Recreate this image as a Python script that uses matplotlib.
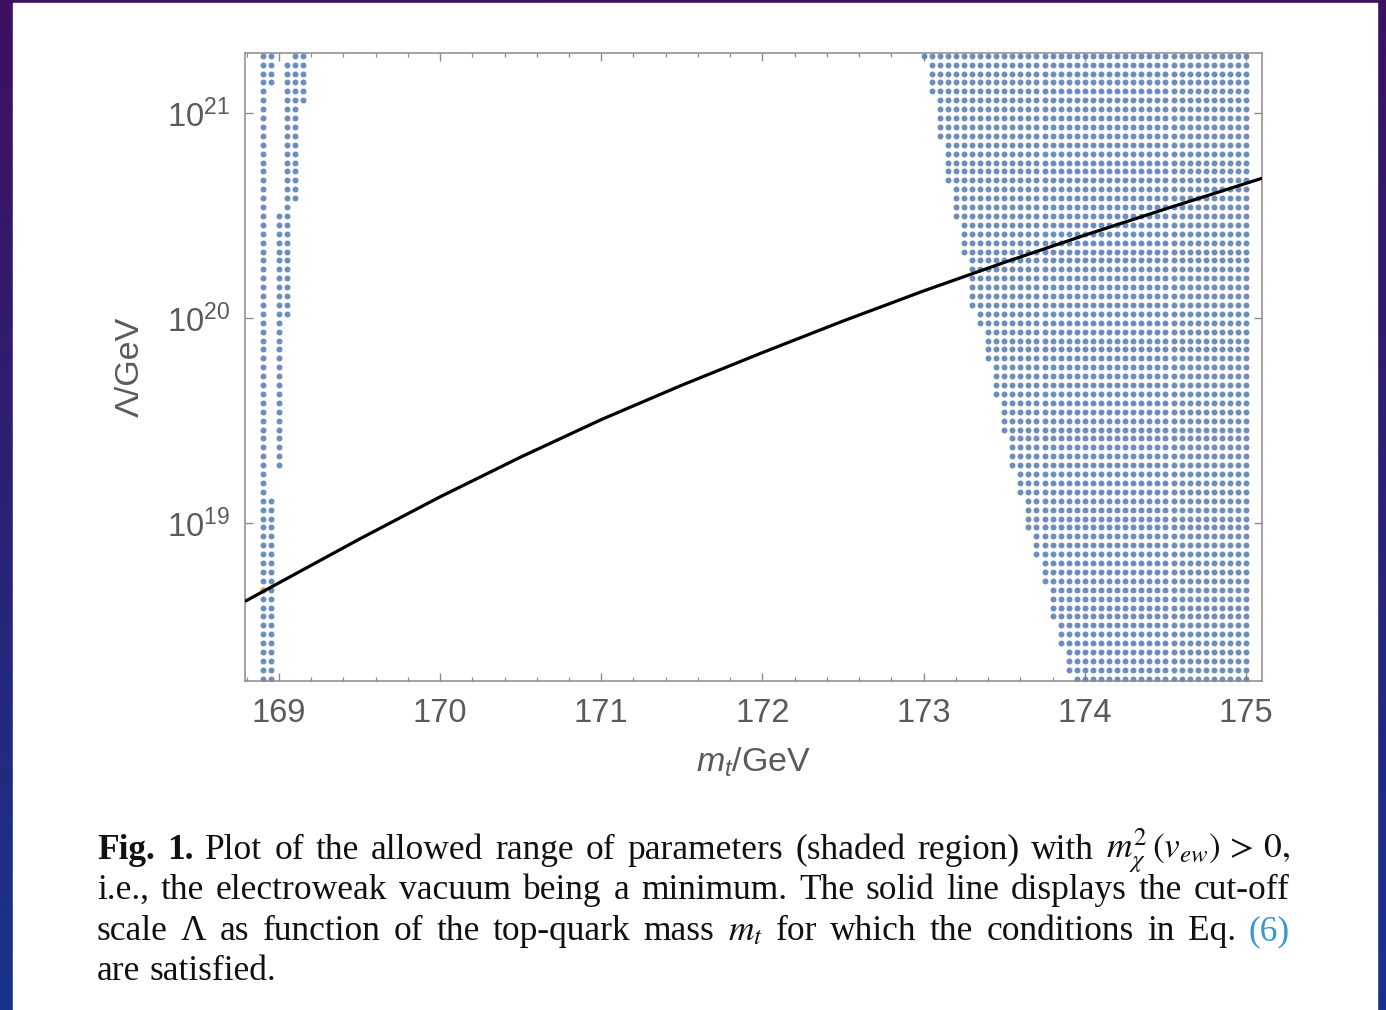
import numpy as np
import matplotlib
matplotlib.use("Agg")
import matplotlib.pyplot as plt
from matplotlib.patches import Rectangle
from matplotlib.ticker import FixedLocator, MultipleLocator, NullLocator, LogFormatterSciNotation

# ---------------------------------------------------------------------------
# Scanned parameter grid: top mass in steps of 0.05 GeV, ln(Lambda/GeV) in steps of 0.1
# ---------------------------------------------------------------------------
lnlam_rows = np.round(np.arange(42.0, 49.0001, 0.1), 1)

# narrow allowed strip near m_t = 169 GeV: per-column ln(Lambda) intervals
strip_mt = [168.90, 168.95, 168.95, 169.00, 169.05, 169.10, 169.15]
strip_lo = [42.0, 42.0, 48.7, 44.4, 46.1, 47.4, 48.5]
strip_hi = [49.0, 44.0, 49.0, 47.2, 48.9, 49.0, 49.0]

# allowed wedge at large m_t: lower ln(Lambda) of each step and first allowed m_t
wedge_ln = [42.0, 42.1, 42.4, 42.7, 43.1, 43.4, 43.7, 44.1, 44.4, 44.8,
            45.2, 45.6, 46.0, 46.2, 46.8, 47.2, 47.6, 48.1, 48.6, 49.0]
wedge_mt = [173.95, 173.90, 173.85, 173.80, 173.75, 173.70, 173.65, 173.60, 173.55, 173.50,
            173.45, 173.40, 173.35, 173.30, 173.25, 173.20, 173.15, 173.10, 173.05, 173.00]
wedge_mt_max = 175.00

# highlighted grid point
special_mt = [168.90]
special_lnlam = [43.0]

# cut-off scale Lambda(m_t)
line_mt = [168.79, 169.0, 169.5, 170.0, 170.5, 171.0, 171.5, 172.0, 172.5,
           173.0, 173.5, 174.0, 174.5, 175.1]
line_log10lam = [18.618, 18.708, 18.922, 19.128, 19.322, 19.505, 19.673, 19.832, 19.986,
                 20.133, 20.272, 20.405, 20.533, 20.683]

x_ticks = [169, 170, 171, 172, 173, 174, 175]
y_ticks = [1e19, 1e20, 1e21]

# ---------------------------------------------------------------------------
W, H = 1386, 1010
plt.rcParams["font.family"] = ["Liberation Sans", "DejaVu Sans"]
plt.rcParams["mathtext.fontset"] = "custom"
plt.rcParams["mathtext.rm"] = "Liberation Sans"
plt.rcParams["mathtext.it"] = "Liberation Sans:italic"
plt.rcParams["mathtext.bf"] = "Liberation Sans:bold"

fig = plt.figure(figsize=(W / 100, H / 100), dpi=100)


def fx(px):
    return px / W


def fy(py):
    return 1 - py / H


# slide background: purple to blue gradient with a white page on top
bg = fig.add_axes([0, 0, 1, 1], zorder=-10)
bg.set_axis_off()
tv = np.linspace(0, 1, 256)[:, None]
th = np.linspace(0, 1, 64)[None, :]
top = np.array([62, 16, 96]) / 255
bot = np.array([24, 52, 138]) / 255
grad = (1 - tv)[..., None] * top + tv[..., None] * bot
grad = grad * (1 - 0.08 * th[..., None]) + 0.08 * th[..., None] * np.array([30, 40, 120]) / 255
grad = np.broadcast_to(grad, (256, 64, 3))
bg.imshow(grad, extent=[0, 1, 0, 1], aspect="auto", origin="upper")
bg.add_patch(Rectangle((fx(13), 0), fx(1377) - fx(13), fy(3), color="white", zorder=2))
bg.set_xlim(0, 1)
bg.set_ylim(0, 1)

# ---------------------------------------------------------------------------
ax = fig.add_axes([fx(245), fy(681), fx(1262) - fx(245), fy(53) - fy(681)])
ax.set_yscale("log")
ax.set_xlim(168.79, 175.099)
ax.set_ylim(10 ** 18.2293, 10 ** 21.2941)

pts_x, pts_y = [], []
for m, lo, hi in zip(strip_mt, strip_lo, strip_hi):
    for ln in lnlam_rows:
        if lo - 1e-6 <= ln <= hi + 1e-6:
            pts_x.append(m)
            pts_y.append(np.exp(ln))

wedge_ln_arr = np.array(wedge_ln)
for ln in lnlam_rows:
    i = np.searchsorted(wedge_ln_arr, ln + 1e-6) - 1
    start = wedge_mt[i]
    cols = np.round(np.arange(start, wedge_mt_max + 1e-6, 0.05), 2)
    for m in cols:
        pts_x.append(m)
        pts_y.append(np.exp(ln))

dot_blue = "#5E81B5"
ax.plot(pts_x, pts_y, "o", ms=4.3, mew=0, color=dot_blue, alpha=0.9, zorder=2)
ax.plot(special_mt, np.exp(special_lnlam), "o", ms=4.3, mew=0, color="#E19C24", zorder=3)

ax.plot(line_mt, 10 ** np.array(line_log10lam), color="black", lw=2.3,
        solid_capstyle="butt", solid_joinstyle="round", zorder=4)

# frame and ticks
frame_col = "#8a8a8a"
for s in ax.spines.values():
    s.set_color(frame_col)
    s.set_linewidth(1.1)

ax.xaxis.set_major_locator(FixedLocator(x_ticks))
ax.xaxis.set_minor_locator(MultipleLocator(0.2))
ax.yaxis.set_major_locator(FixedLocator(y_ticks))
ax.yaxis.set_minor_locator(NullLocator())
ax.yaxis.set_major_formatter(LogFormatterSciNotation())
ax.tick_params(which="both", direction="in", top=True, right=True, color=frame_col,
               labelcolor="#5a5a5a", labelsize=23.5)
ax.tick_params(which="major", length=6, width=1.0)
ax.tick_params(which="minor", length=3.2, width=0.9)
ax.tick_params(axis="x", which="major", pad=12)
ax.tick_params(axis="y", which="major", pad=11)

ax.set_xlabel(r"$m_t$/GeV", fontsize=24.5, color="#5a5a5a", va="center")
ax.xaxis.set_label_coords(0.5, (681 - 762) / 628)
ax.set_ylabel("Λ/GeV", fontsize=24.5, color="#5a5a5a", va="center")
ax.yaxis.set_label_coords((130 - 245) / 1017, 0.5)

# ---------------------------------------------------------------------------
# figure caption, justified between two margins
cap_x0, cap_x1 = 97, 1290
cap_size = 25.5
cap_col = "#101010"
link_col = "#3a98d0"
caption_lines = [
    [("Fig.", "bf"), ("1.", "bf"), ("Plot", ""), ("of", ""), ("the", ""), ("allowed", ""),
     ("range", ""), ("of", ""), ("parameters", ""), ("(shaded", ""), ("region)", ""),
     ("with", ""), (r"$m^2_\chi\,(v_{ew})\, >\, 0,$", "math")],
    [("i.e.,", ""), ("the", ""), ("electroweak", ""), ("vacuum", ""), ("being", ""), ("a", ""),
     ("minimum.", ""), ("The", ""), ("solid", ""), ("line", ""), ("displays", ""), ("the", ""),
     ("cut-off", "")],
    [("scale", ""), ("Λ", ""), ("as", ""), ("function", ""), ("of", ""), ("the", ""),
     ("top-quark", ""), ("mass", ""), (r"$m_t$", "math"), ("for", ""), ("which", ""),
     ("the", ""), ("conditions", ""), ("in", ""), ("Eq.", ""), ("(6)", "link")],
    [("are", ""), ("satisfied.", "")],
]
cap_baselines = [859, 899, 940, 980]
cap_justify = [True, True, True, False]

fig.canvas.draw()
renderer = fig.canvas.get_renderer()
for words, yb, just in zip(caption_lines, cap_baselines, cap_justify):
    texts = []
    for w, kind in words:
        kw = dict(fontsize=cap_size, va="baseline", ha="left",
                  family=["Liberation Serif", "DejaVu Serif"], color=cap_col)
        if kind == "bf":
            kw["fontweight"] = "bold"
        elif kind == "math":
            kw["math_fontfamily"] = "stix"
        elif kind == "link":
            kw["color"] = link_col
        texts.append(fig.text(0, fy(yb), w, **kw))
    widths = [t.get_window_extent(renderer).width for t in texts]
    if just and len(texts) > 1:
        gap = (cap_x1 - cap_x0 - sum(widths)) / (len(texts) - 1)
    else:
        gap = cap_size * 100 / 72 * 0.25
    x = cap_x0
    for t, wd in zip(texts, widths):
        t.set_x(fx(x))
        x += wd + gap

fig.savefig("out.png", dpi=100)
